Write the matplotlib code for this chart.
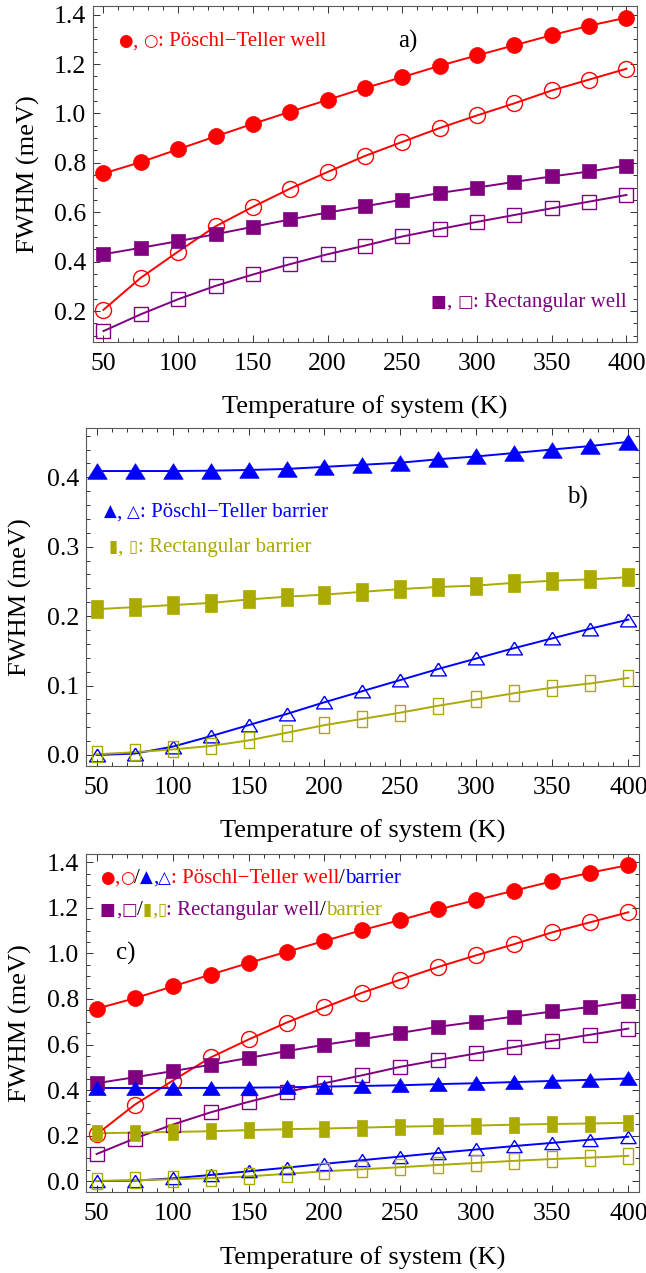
import matplotlib
matplotlib.use('Agg')
import matplotlib.pyplot as plt
from matplotlib.ticker import MultipleLocator, FormatStrFormatter
from matplotlib.offsetbox import TextArea, HPacker, AnchoredOffsetbox

plt.rcParams['font.family'] = ['Liberation Serif', 'DejaVu Sans']

# %% --- DATOS ---
temp = [50, 75, 100, 125, 150, 175, 200, 225, 250, 275, 300, 325, 350, 375, 400]

# pozo de Pöschl-Teller (lleno / vacio)
pt_pozo_lleno = [0.757, 0.803, 0.855, 0.907, 0.958, 1.007, 1.055, 1.103, 1.147,
                 1.193, 1.235, 1.276, 1.317, 1.355, 1.388]
pt_pozo_vacio = [0.205, 0.335, 0.441, 0.543, 0.622, 0.696, 0.763, 0.828, 0.885,
                 0.941, 0.992, 1.041, 1.093, 1.137, 1.181]
# pozo rectangular
rect_pozo_lleno = [0.430, 0.456, 0.483, 0.511, 0.541, 0.571, 0.599, 0.624, 0.651,
                   0.678, 0.700, 0.723, 0.745, 0.765, 0.789]
rect_pozo_vacio = [0.119, 0.187, 0.248, 0.302, 0.348, 0.390, 0.430, 0.465, 0.502,
                   0.532, 0.561, 0.589, 0.616, 0.643, 0.670]
# barrera de Pöschl-Teller
pt_barr_lleno = [0.409, 0.409, 0.409, 0.4095, 0.4105, 0.412, 0.415, 0.418, 0.421,
                 0.426, 0.430, 0.435, 0.440, 0.445, 0.451]
pt_barr_vacio = [0.000, 0.002, 0.012, 0.027, 0.043, 0.059, 0.076, 0.092, 0.108,
                 0.124, 0.139, 0.154, 0.168, 0.182, 0.195]
# barrera rectangular
rect_barr_lleno = [0.210, 0.213, 0.216, 0.219, 0.224, 0.228, 0.231, 0.235, 0.239,
                   0.242, 0.244, 0.248, 0.251, 0.253, 0.256]
rect_barr_vacio = [0.001, 0.004, 0.008, 0.013, 0.021, 0.032, 0.043, 0.052, 0.061,
                   0.071, 0.080, 0.089, 0.097, 0.103, 0.111]

ROJO = '#ff0000'
VIOLETA = '#800080'
AZUL = '#0000ff'
OLIVA = '#aaaa00'
SIMB = ['DejaVu Sans']

# marcadores propios (cerrados): triangulo chato y rectangulo alto
tri = [(0, 0.8), (-1, -0.8), (1, -0.8), (0, 0.8)]
rect = [(-0.65, -1), (0.65, -1), (0.65, 1), (-0.65, 1), (-0.65, -1)]


def serie(ax, y, color, marker, ms, lleno):
    ax.plot(temp, y, '-', color=color, lw=1.4, zorder=2)
    if lleno:
        ax.plot(temp, y, ls='none', marker=marker, ms=ms, mfc=color,
                mec=color, mew=0.5, zorder=3)
    else:
        ax.plot(temp, y, ls='none', marker=marker, ms=ms, mfc='none',
                mec=color, mew=1.0, zorder=3)


def texto(ax, x, y, partes, size=15):
    # partes: (texto, color, es_simbolo)
    cajas = []
    for t, c, s in partes:
        if s:
            props = dict(color=c, fontsize=size * 0.8, family=SIMB)
        else:
            props = dict(color=c, fontsize=size)
        cajas.append(TextArea(t, textprops=props))
    fila = HPacker(children=cajas, align='baseline', pad=0, sep=0)
    caja = AnchoredOffsetbox(loc='center left', child=fila, pad=0, borderpad=0,
                             frameon=False, bbox_to_anchor=(x, y),
                             bbox_transform=ax.transAxes)
    ax.add_artist(caja)


def ejes(ax, ylim, ymaj, ymin):
    ax.set_xlim(43, 407)
    ax.set_ylim(*ylim)
    ax.xaxis.set_major_locator(MultipleLocator(50))
    ax.xaxis.set_minor_locator(MultipleLocator(10))
    ax.yaxis.set_major_locator(MultipleLocator(ymaj))
    ax.yaxis.set_minor_locator(MultipleLocator(ymin))
    ax.yaxis.set_major_formatter(FormatStrFormatter('%.1f'))
    ax.tick_params(which='both', direction='in', top=True, right=True,
                   width=0.7, color='0.2')
    ax.tick_params(which='major', length=5, labelsize=18.5, pad=5)
    ax.tick_params(axis='x', which='major', pad=8)
    ax.tick_params(which='minor', length=2.8)
    for s in ax.spines.values():
        s.set_linewidth(0.8)
        s.set_color('0.35')
    ax.set_xlabel('Temperature of system (K)', fontsize=19)
    ax.set_ylabel('FWHM (meV)', fontsize=19)
    ax.yaxis.set_label_coords(-0.098, 0.5)
    ax.xaxis.set_label_coords(0.5, -0.16)


fig = plt.figure(figsize=(6.46, 12.73), dpi=100)
ax_a = fig.add_axes([0.144, 0.7313, 0.842, 0.264])
ax_b = fig.add_axes([0.1331, 0.3983, 0.856, 0.2655])
ax_c = fig.add_axes([0.1331, 0.0636, 0.856, 0.2655])

# %% --- a) pozos ---
serie(ax_a, pt_pozo_lleno, ROJO, 'o', 11.5, True)
serie(ax_a, pt_pozo_vacio, ROJO, 'o', 11.5, False)
serie(ax_a, rect_pozo_lleno, VIOLETA, 's', 10, True)
serie(ax_a, rect_pozo_vacio, VIOLETA, 's', 9.5, False)
ejes(ax_a, (0.0745, 1.435), 0.2, 0.05)
texto(ax_a, 0.046, 0.894, [('●', ROJO, True), (', ', ROJO, False), ('○', ROJO, True),
                           (': Pöschl−Teller well', ROJO, False)])
texto(ax_a, 0.56, 0.893, [('a)', 'black', False)], size=18)
texto(ax_a, 0.621, 0.119, [('■', VIOLETA, True), (', ', VIOLETA, False),
                           ('□', VIOLETA, True), (': Rectangular well', VIOLETA, False)])

# %% --- b) barreras ---
serie(ax_b, pt_barr_lleno, AZUL, tri, 14, True)
serie(ax_b, pt_barr_vacio, AZUL, tri, 11.5, False)
serie(ax_b, rect_barr_lleno, OLIVA, rect, 13, True)
serie(ax_b, rect_barr_vacio, OLIVA, rect, 12, False)
ejes(ax_b, (-0.0158, 0.471), 0.1, 0.02)
texto(ax_b, 0.87, 0.793, [('b)', 'black', False)], size=18)
texto(ax_b, 0.0325, 0.749, [('▲', AZUL, True), (', ', AZUL, False), ('△', AZUL, True),
                            (': Pöschl−Teller barrier', AZUL, False)])
texto(ax_b, 0.0416, 0.645, [('▮', OLIVA, True), (', ', OLIVA, False), ('▯', OLIVA, True),
                            (': Rectangular barrier', OLIVA, False)])

# %% --- c) todo junto ---
serie(ax_c, pt_pozo_lleno, ROJO, 'o', 11.5, True)
serie(ax_c, pt_pozo_vacio, ROJO, 'o', 11.5, False)
serie(ax_c, rect_pozo_lleno, VIOLETA, 's', 10, True)
serie(ax_c, rect_pozo_vacio, VIOLETA, 's', 9.5, False)
serie(ax_c, pt_barr_lleno, AZUL, tri, 12.5, True)
serie(ax_c, pt_barr_vacio, AZUL, tri, 11, False)
serie(ax_c, rect_barr_lleno, OLIVA, rect, 12, True)
serie(ax_c, rect_barr_vacio, OLIVA, rect, 11.5, False)
ejes(ax_c, (-0.048, 1.4365), 0.2, 0.05)
texto(ax_c, 0.0253, 0.929, [('●', ROJO, True), (',', ROJO, False), ('○', ROJO, True),
                            ('/', 'black', False), ('▲', AZUL, True), (',', AZUL, False),
                            ('△', AZUL, True), (': Pöschl−Teller well', ROJO, False),
                            ('/', 'black', False), ('barrier', AZUL, False)])
texto(ax_c, 0.0253, 0.834, [('■', VIOLETA, True), (',', VIOLETA, False),
                            ('□', VIOLETA, True), ('/', 'black', False),
                            ('▮', OLIVA, True), (',', OLIVA, False), ('▯', OLIVA, True),
                            (': Rectangular well', VIOLETA, False), ('/', 'black', False),
                            ('barrier', OLIVA, False)])
texto(ax_c, 0.055, 0.707, [('c)', 'black', False)], size=18)

fig.savefig('out.png', dpi=100)
